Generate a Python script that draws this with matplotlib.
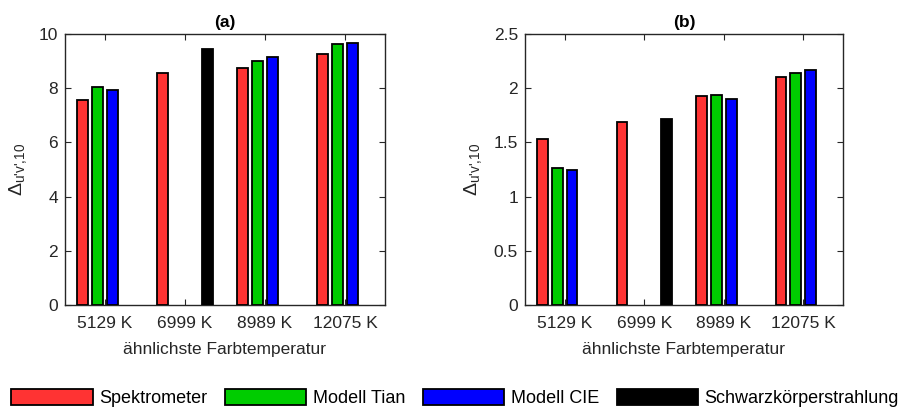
import numpy as np
import matplotlib.pyplot as plt
from matplotlib.patches import Patch

plt.rcParams['font.family'] = ['Liberation Sans', 'DejaVu Sans']
plt.rcParams['mathtext.fontset'] = 'custom'
plt.rcParams['mathtext.rm'] = 'Liberation Sans'

categories = ['5129 K', '6999 K', '8989 K', '12075 K']
series_names = ['Spektrometer', 'Modell Tian', 'Modell CIE', 'Schwarzkörperstrahlung']
series_colors = ['#FF3333', '#00CC00', '#0000FF', '#000000']

# values per series, None = no bar
a_spektrometer = [7.58, 8.55, 8.76, 9.28]
a_tian = [8.05, None, 9.02, 9.62]
a_cie = [7.94, None, 9.16, 9.68]
a_schwarz = [None, 9.45, None, None]

b_spektrometer = [1.53, 1.69, 1.925, 2.105]
b_tian = [1.26, None, 1.935, 2.14]
b_cie = [1.245, None, 1.905, 2.17]
b_schwarz = [None, 1.72, None, None]

panel_a = [a_spektrometer, a_tian, a_cie, a_schwarz]
panel_b = [b_spektrometer, b_tian, b_cie, b_schwarz]

txt = '#262626'
fig = plt.figure(figsize=(9.05, 4.11), dpi=100)
ax1 = fig.add_axes([0.0718, 0.258, 0.3536, 0.659])
ax2 = fig.add_axes([0.580, 0.258, 0.3514, 0.659])

x = np.arange(1, len(categories) + 1)
offsets = [-0.28, -0.094, 0.094, 0.28]
width = 0.135


def draw_panel(ax, data, ylim, yticks, yticklabels, title):
    for vals, off, color in zip(data, offsets, series_colors):
        for xi, v in zip(x, vals):
            if v is None:
                continue
            ax.bar(xi + off, v, width, color=color, edgecolor='black', linewidth=1.3, zorder=3)
    ax.set_xlim(0.5, 4.5)
    ax.set_ylim(*ylim)
    ax.set_xticks(x)
    ax.set_xticklabels(categories)
    ax.set_yticks(yticks)
    ax.set_yticklabels(yticklabels)
    ax.tick_params(direction='in', top=True, right=True, length=4, width=0.8,
                   labelsize=12.5, colors=txt)
    ax.tick_params(axis='x', pad=8)
    ax.tick_params(axis='y', pad=5)
    for s in ax.spines.values():
        s.set_color(txt)
        s.set_linewidth(1.0)
    ax.set_xlabel('ähnlichste Farbtemperatur', fontsize=12.5, color=txt, labelpad=8)
    ax.set_ylabel("Δ$_{\\text{u'v',10}}$", fontsize=14, color=txt, labelpad=6)
    ax.set_title(title, fontsize=12.5, fontweight='bold', pad=5)


draw_panel(ax1, panel_a, (0, 10), [0, 2, 4, 6, 8, 10], ['0', '2', '4', '6', '8', '10'], '(a)')
draw_panel(ax2, panel_b, (0, 2.5), [0, 0.5, 1, 1.5, 2, 2.5], ['0', '0.5', '1', '1.5', '2', '2.5'], '(b)')

handles = [Patch(facecolor=c, edgecolor='black', linewidth=1.3) for c in series_colors]
fig.legend(handles, series_names, loc='center', bbox_to_anchor=(0.503, 0.032), ncol=4,
           frameon=False, fontsize=13, handlelength=4.5, handleheight=1.05,
           handletextpad=0.35, columnspacing=1.0, borderpad=0.0)

fig.savefig('out.png', dpi=100)
plt.close(fig)
